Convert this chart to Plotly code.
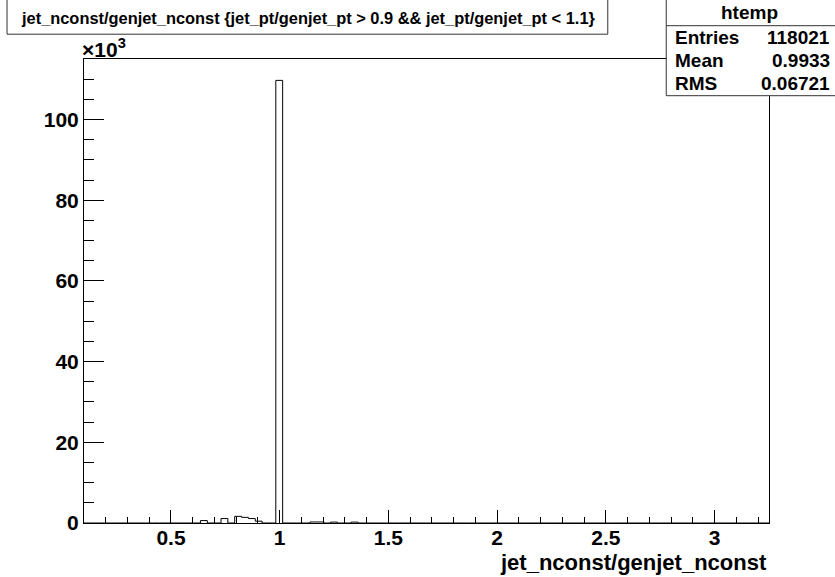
import numpy as np
import plotly.graph_objects as go

# ---- data ----
n_bins = 100
x_min, x_max = 0.1, 3.25
filled_bins = [17, 20, 22, 23, 24, 25, 28, 33, 34, 36, 39]
filled_counts = [600, 1100, 1650, 1400, 1100, 450, 109700, 250, 250, 220, 220]

x_ticks = [0.5, 1, 1.5, 2, 2.5, 3]
x_tick_text = ["0.5", "1", "1.5", "2", "2.5", "3"]
y_ticks = [0, 20000, 40000, 60000, 80000, 100000]
y_tick_text = ["0", "20", "40", "60", "80", "100"]

title_text = "jet_nconst/genjet_nconst {jet_pt/genjet_pt > 0.9 && jet_pt/genjet_pt < 1.1}"
x_title = "jet_nconst/genjet_nconst"
stats_name = "htemp"
stats_labels = ["Entries", "Mean", "RMS"]
stats_values = ["118021", "0.9933", "0.06721"]

# ---- histogram build ----
edges = np.linspace(x_min, x_max, n_bins + 1)
counts = np.zeros(n_bins)
for b, c in zip(filled_bins, filled_counts):
    counts[b] = c
ys = list(counts) + [0]

W, H = 835, 577
L, R, T, B = 84, 769.3, 59.3, 523.3


def px(xp):
    return (xp - L) / (R - L)


def py(yp):
    return (B - yp) / (B - T)


FONT = "Liberation Sans, Arial, Helvetica, sans-serif"

fig = go.Figure()
fig.add_trace(go.Scatter(
    x=edges, y=ys, mode="lines", line=dict(color="black", width=1, shape="hv"),
    hoverinfo="skip", showlegend=False,
))

shapes = [
    # title box
    dict(type="rect", xref="paper", yref="paper", x0=px(7), x1=px(608), y0=py(34.5), y1=py(-5),
         line=dict(color="#333", width=1), fillcolor="white", layer="above"),
    # stats box
    dict(type="rect", xref="paper", yref="paper", x0=px(666.5), x1=px(845), y0=py(96), y1=py(-5),
         line=dict(color="#333", width=1), fillcolor="white", layer="above"),
    dict(type="line", xref="paper", yref="paper", x0=px(666.5), x1=px(845), y0=py(26), y1=py(26),
         line=dict(color="#333", width=1), layer="above"),
]

annotations = [
    dict(text=title_text, xref="paper", yref="paper", x=px(309), y=py(18), xanchor="center",
         yanchor="middle", showarrow=False, font=dict(family=FONT, size=16.4, color="black", weight="bold")),
    dict(text=stats_name, xref="paper", yref="paper", x=px(750), y=py(13), xanchor="center",
         yanchor="middle", showarrow=False, font=dict(family=FONT, size=19, color="black", weight="bold")),
    dict(text="×10<sup>3</sup>", xref="paper", yref="paper", x=px(80), y=py(63), xanchor="left",
         yanchor="bottom", showarrow=False, font=dict(family=FONT, size=21, color="black", weight="bold")),
    dict(text=x_title, xref="paper", yref="paper", x=1, y=py(563), xanchor="right",
         yanchor="middle", showarrow=False, font=dict(family=FONT, size=22, color="black", weight="bold")),
]
row_y = [38, 61, 84]
for lab, val, yy in zip(stats_labels, stats_values, row_y):
    annotations.append(dict(text=lab, xref="paper", yref="paper", x=px(673), y=py(yy), xanchor="left",
                            yanchor="middle", showarrow=False,
                            font=dict(family=FONT, size=19, color="black", weight="bold")))
    annotations.append(dict(text=val, xref="paper", yref="paper", x=px(832), y=py(yy), xanchor="right",
                            yanchor="middle", showarrow=False,
                            font=dict(family=FONT, size=19, color="black", weight="bold")))

fig.update_layout(
    width=W, height=H,
    margin=dict(l=L, r=W - R, t=T, b=H - B, pad=0),
    paper_bgcolor="white", plot_bgcolor="white",
    shapes=shapes, annotations=annotations,
    xaxis=dict(range=[x_min, x_max], showgrid=False, zeroline=False, showline=True, linecolor="black",
               linewidth=1, mirror=True, ticks="inside", ticklen=13, tickcolor="black",
               tickvals=x_ticks, ticktext=x_tick_text, ticklabelstandoff=-4,
               tickfont=dict(family=FONT, size=21, color="black", weight="bold"),
               minor=dict(dtick=0.1, tick0=0, ticks="inside", ticklen=6.5, tickcolor="black")),
    yaxis=dict(range=[0, 115000], showgrid=False, zeroline=False, showline=True, linecolor="black",
               linewidth=1, mirror=True, ticks="inside", ticklen=20, tickcolor="black",
               tickvals=y_ticks, ticktext=y_tick_text,
               tickfont=dict(family=FONT, size=21, color="black", weight="bold"),
               minor=dict(dtick=5000, tick0=0, ticks="inside", ticklen=10, tickcolor="black")),
)

fig.write_html("out.html")
